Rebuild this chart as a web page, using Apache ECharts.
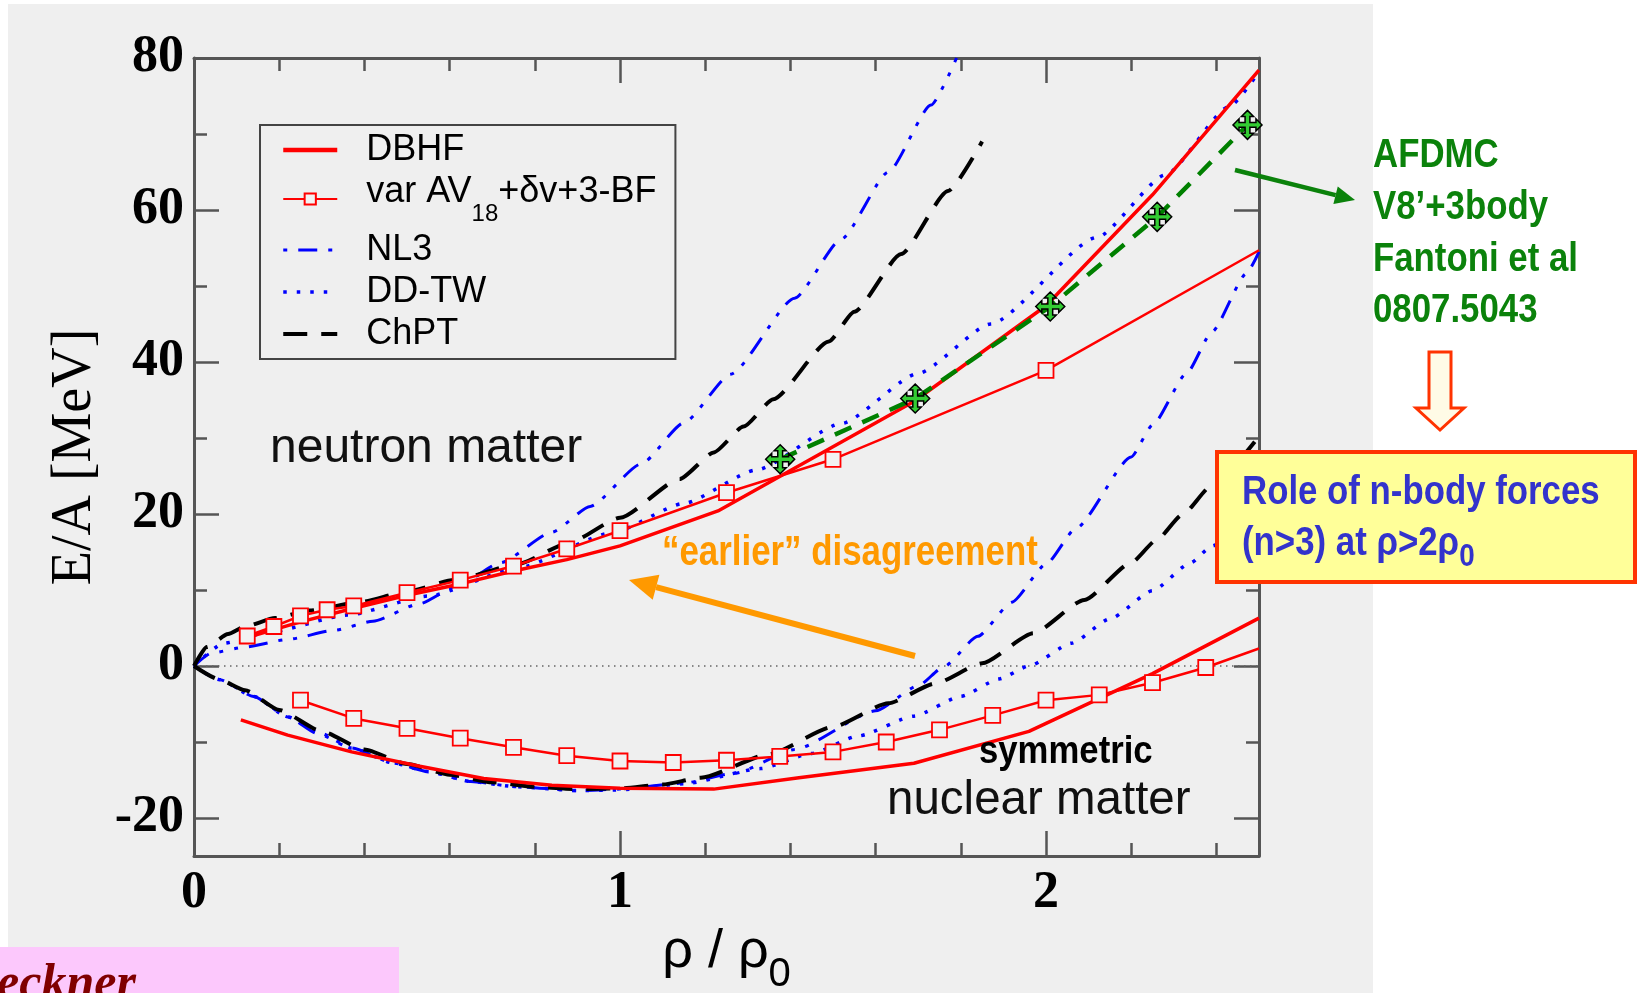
<!DOCTYPE html>
<html>
<head>
<meta charset="utf-8">
<title>E/A vs density</title>
<script src="https://cdn.jsdelivr.net/npm/echarts@6/dist/echarts.min.js"></script>
<style>
  html, body { margin: 0; padding: 0; background: #fff; }
  #eosChart { width: 1640px; height: 993px; }
</style>
</head>
<body>
<div id="eosChart"></div>
<script>
// rho/rho0 on x, E/A [MeV] on y
const dbhfNeutronX = [0.11, 0.25, 0.375, 0.5, 0.625, 0.75, 0.875, 1.0, 1.23, 1.69, 2.0, 2.25, 2.5]
const dbhfNeutronY = [3.5, 5.8, 7.6, 9.3, 10.8, 12.5, 14.0, 15.8, 20.4, 34.8, 47.4, 62.0, 78.4]
const dbhfSymX = [0.11, 0.22, 0.37, 0.53, 0.68, 0.84, 1.0, 1.22, 1.42, 1.69, 1.96, 2.25, 2.5]
const dbhfSymY = [-7.1, -9.1, -11.3, -13.2, -14.8, -15.7, -16.1, -16.2, -14.7, -12.8, -8.6, -1.0, 6.3]

const varNeutronX = [0.125, 0.1875, 0.25, 0.3125, 0.375, 0.5, 0.625, 0.75, 0.875, 1.0, 1.25, 1.5, 2.0, 2.5]
const varNeutronY = [3.95, 5.2, 6.6, 7.4, 7.9, 9.65, 11.3, 13.15, 15.4, 17.8, 22.8, 27.2, 38.9, 54.7]
const varSymX = [0.25, 0.375, 0.5, 0.625, 0.75, 0.875, 1.0, 1.125, 1.25, 1.375, 1.5, 1.625, 1.75, 1.875, 2.0, 2.125, 2.25, 2.375, 2.5]
const varSymY = [-4.5, -6.9, -8.2, -9.5, -10.7, -11.8, -12.5, -12.7, -12.4, -11.9, -11.3, -10.0, -8.4, -6.5, -4.5, -3.8, -2.2, -0.2, 2.3]

const nl3NeutronX = [0, 0.04, 0.12, 0.22, 0.33, 0.42, 0.53, 0.62, 0.72, 0.84, 0.93, 1.05, 1.15, 1.26, 1.41, 1.52, 1.63, 1.73, 1.79]
const nl3NeutronY = [0, 1.7, 2.5, 3.5, 4.7, 5.9, 8.2, 10.6, 13.6, 17.6, 21.0, 26.6, 32.0, 38.4, 48.4, 56.2, 65.0, 73.8, 80]
const nl3SymX = [0, 0.06, 0.14, 0.22, 0.29, 0.37, 0.47, 0.55, 0.65, 0.76, 0.9, 1.0, 1.15, 1.27, 1.41, 1.6, 1.7, 1.76, 1.84, 1.92, 2.0, 2.07, 2.2, 2.25, 2.33, 2.39, 2.47, 2.5]
const nl3SymY = [0, -1.8, -4.0, -6.7, -8.9, -10.8, -12.8, -13.9, -15.2, -15.9, -16.4, -16.2, -15.4, -14.1, -11.0, -5.9, -2.6, -0.1, 3.9, 8.4, 13.4, 18.1, 27.5, 31.7, 38.5, 44.0, 51.6, 54.5]

const ddtwNeutronX = [0, 0.07, 0.18, 0.36, 0.55, 0.76, 0.98, 1.15, 1.32, 1.52, 1.7, 1.87, 2.12, 2.28, 2.43, 2.5]
const ddtwNeutronY = [0, 3.0, 4.5, 6.7, 9.2, 12.9, 17.5, 21.4, 25.8, 31.9, 38.5, 45.0, 56.4, 64.6, 73.6, 78.2]
const ddtwSymX = [0, 0.06, 0.14, 0.22, 0.3, 0.37, 0.47, 0.55, 0.65, 0.76, 0.9, 1.0, 1.15, 1.33, 1.45, 1.56, 1.69, 1.8, 1.89, 1.96, 2.06, 2.15, 2.25, 2.34, 2.39, 2.5]
const ddtwSymY = [0, -1.8, -4.0, -6.7, -8.9, -10.8, -12.8, -13.9, -15.2, -15.9, -16.4, -16.3, -15.5, -13.5, -11.5, -9.2, -6.6, -4.0, -1.7, 0, 3.0, 6.2, 9.9, 13.6, 15.8, 21.0]

const chptNeutronX = [0, 0.03, 0.08, 0.12, 0.19, 0.27, 0.39, 0.5, 0.61, 0.76, 0.88, 1.0, 1.14, 1.22, 1.29, 1.36, 1.49, 1.55, 1.66, 1.77, 1.85]
const chptNeutronY = [0, 2.5, 4.2, 5.2, 6.3, 7.3, 8.4, 9.8, 11.3, 13.4, 16.2, 19.5, 24.6, 28.1, 31.5, 35.1, 42.7, 46.6, 54.2, 62.5, 69.0]
const chptSymX = [0, 0.06, 0.12, 0.2, 0.3, 0.4, 0.5, 0.6, 0.7, 0.8, 0.9, 1.0, 1.1, 1.19, 1.35, 1.5, 1.63, 1.74, 1.85, 1.97, 2.09, 2.2, 2.26, 2.32, 2.39, 2.49]
const chptSymY = [0, -1.8, -3.2, -5.8, -8.6, -11.0, -12.9, -14.3, -15.3, -15.9, -16.2, -16.1, -15.6, -14.7, -11.6, -8.0, -4.9, -2.3, 0.35, 4.3, 8.7, 13.6, 16.6, 19.9, 23.8, 29.5]

const afdmcX = [1.376, 1.693, 2.01, 2.261, 2.473]
const afdmcY = [27.2, 35.2, 47.3, 59.1, 71.2]

const zeroLineX = [0, 2.5]
const zeroLineY = [0, 0]

// axis ticks
const xMajor = [0, 1, 2]
const xMinor = [0.2, 0.4, 0.6, 0.8, 1.2, 1.4, 1.6, 1.8, 2.2, 2.4]
const yMajor = [-20, 0, 20, 40, 60, 80]
const yMinor = [-10, 10, 30, 50, 70]

const VAR_NAME = 'var AV18+δv+3-BF'
const RED = '#ff0000'
const BLUE = '#0000ff'
const AXIS = '#555555'
const NL3_DASH = [19, 11, 4, 11, 4, 11]

function pairs(xs, ys) {
    return xs.map((x, i) => [x, ys[i]])
}

// last point sits on the frame and has no marker
function varData(xs, ys) {
    return xs.map((x, i) => i === xs.length - 1 ? { value: [x, ys[i]], symbol: 'none' } : [x, ys[i]])
}

function tickAxis(pos, values, len, withLine) {
    const horiz = pos === 'top' || pos === 'bottom'
    return {
        type: 'value', position: pos, min: horiz ? 0 : -25, max: horiz ? 2.5 : 80,
        axisLine: { show: withLine, onZero: false, lineStyle: { color: AXIS, width: 3 } },
        axisTick: { show: true, inside: true, length: len, customValues: values, lineStyle: { color: AXIS, width: 2.5 } },
        axisLabel: { show: false },
        splitLine: { show: false }
    }
}

function arrow(x1, y1, x2, y2, color, width, headLen, headHalf) {
    const L = Math.hypot(x2 - x1, y2 - y1)
    const ux = (x2 - x1) / L, uy = (y2 - y1) / L
    const bx = x2 - ux * headLen, by = y2 - uy * headLen
    return [
        { type: 'line', z: 50, shape: { x1: x1, y1: y1, x2: bx, y2: by }, style: { stroke: color, lineWidth: width } },
        { type: 'polygon', z: 50, shape: { points: [[x2, y2], [bx - uy * headHalf, by + ux * headHalf], [bx + uy * headHalf, by - ux * headHalf]] }, style: { fill: color } }
    ]
}

function label(text, x, y, font, color, scaleX, extra) {
    return {
        type: 'text', z: 50, x: x, y: y, scaleX: scaleX || 1,
        style: Object.assign({ text: text, font: font, fill: color, align: 'left', verticalAlign: 'middle' }, extra || {})
    }
}

const NARROW = 'bold 40px "Liberation Sans"'
const GREEN = '#0b820b'

const crossPath = 'path://M12 0L17 5L14 5L14 10L19 10L19 7L24 12L19 17L19 14L14 14L14 19L17 19L12 24L7 19L10 19L10 14L5 14L5 17L0 12L5 7L5 10L10 10L10 5L7 5Z'

const theory = (name, data, color, width, dash) => ({
    name: name, type: 'line', data: data, symbol: 'none', smooth: 0.2, smoothMonotone: 'x',
    lineStyle: { color: color, width: width, type: dash }, itemStyle: { color: color }
})

// line-only legend entries: hide the default marker
const noMarker = (name, width, offset) => ({ name: name, itemStyle: { opacity: 0 }, lineStyle: { width: width, dashOffset: offset || 0 } })

const chart = echarts.init(document.querySelector('#eosChart'))
chart.setOption({
    animation: false,
    backgroundColor: '#ffffff',
    grid: { left: 194, right: 381, top: 58, bottom: 137, outerBoundsMode: 'none' },
    xAxis: [
        {
            type: 'value', position: 'bottom', min: 0, max: 2.5,
            axisLine: { show: true, onZero: false, lineStyle: { color: AXIS, width: 3 } },
            axisTick: { show: true, inside: true, length: 25, customValues: xMajor, lineStyle: { color: AXIS, width: 2.5 } },
            axisLabel: { customValues: xMajor, margin: 12, color: '#000', fontFamily: 'Liberation Serif', fontWeight: 'bold', fontSize: 52 },
            splitLine: { show: false },
            name: '{a|ρ / ρ}{s|0}', nameLocation: 'middle', nameGap: 68,
            nameTextStyle: {
                color: '#000', fontFamily: 'Liberation Sans', fontSize: 54,
                rich: {
                    a: { color: '#000', fontFamily: 'Liberation Sans', fontSize: 54, lineHeight: 54, verticalAlign: 'top' },
                    s: { color: '#000', fontFamily: 'Liberation Sans', fontSize: 40, lineHeight: 40, verticalAlign: 'top', padding: [30, 0, 0, 0] }
                }
            }
        },
        tickAxis('bottom', xMinor, 13, false),
        tickAxis('top', xMajor, 25, true),
        tickAxis('top', xMinor, 13, false)
    ],
    yAxis: [
        {
            type: 'value', position: 'left', min: -25, max: 80,
            axisLine: { show: true, onZero: false, lineStyle: { color: AXIS, width: 3 } },
            axisTick: { show: true, inside: true, length: 25, customValues: yMajor, lineStyle: { color: AXIS, width: 2.5 } },
            axisLabel: { customValues: yMajor, margin: 10, color: '#000', fontFamily: 'Liberation Serif', fontWeight: 'bold', fontSize: 52 },
            splitLine: { show: false },
            name: 'E/A [MeV]', nameLocation: 'middle', nameGap: 84,
            nameTextStyle: { color: '#000', fontFamily: 'Liberation Serif', fontSize: 56 }
        },
        tickAxis('left', yMinor, 13, false),
        tickAxis('right', yMajor, 25, true),
        tickAxis('right', yMinor, 13, false)
    ],
    legend: {
        data: [noMarker('DBHF', 4.5), VAR_NAME, noMarker('NL3', 3, 45), noMarker('DD-TW', 3.5), noMarker('ChPT', 4)],
        orient: 'vertical', left: 260, top: 125,
        padding: [7, 19, 7, 21], itemGap: 6, itemWidth: 54, itemHeight: 14,
        borderColor: '#444', borderWidth: 2, selectedMode: false,
        formatter: name => name === VAR_NAME
            ? '{g| }{m|var AV}{s|18}{m|+δv+3-BF}'
            : '{g| }{n|' + name + '}',
        textStyle: {
            color: '#000', fontFamily: 'Liberation Sans', fontSize: 36,
            rich: {
                g: { width: 24, lineHeight: 40, fontSize: 36 },
                n: { color: '#000', fontFamily: 'Liberation Sans', fontSize: 36, lineHeight: 40 },
                m: { color: '#000', fontFamily: 'Liberation Sans', fontSize: 36, lineHeight: 50, verticalAlign: 'top' },
                s: { color: '#000', fontFamily: 'Liberation Sans', fontSize: 24, lineHeight: 24, verticalAlign: 'top', padding: [28, 0, 0, 0] }
            }
        }
    },
    series: [
        {
            name: 'zero', type: 'line', data: pairs(zeroLineX, zeroLineY), symbol: 'none', silent: true,
            lineStyle: { color: '#666', width: 1.5, type: [1.5, 4.5] }
        },
        theory('NL3', pairs(nl3NeutronX, nl3NeutronY), BLUE, 3, NL3_DASH),
        theory('NL3', pairs(nl3SymX, nl3SymY), BLUE, 3, NL3_DASH),
        theory('DD-TW', pairs(ddtwNeutronX, ddtwNeutronY), BLUE, 3.5, [3.5, 10]),
        theory('DD-TW', pairs(ddtwSymX, ddtwSymY), BLUE, 3.5, [3.5, 10]),
        theory('ChPT', pairs(chptNeutronX, chptNeutronY), '#000', 4, [24, 14]),
        theory('ChPT', pairs(chptSymX, chptSymY), '#000', 4, [24, 14]),
        {
            name: VAR_NAME, type: 'line', data: varData(varNeutronX, varNeutronY),
            symbol: 'rect', symbolSize: 15, showAllSymbol: true,
            lineStyle: { color: RED, width: 2.5 },
            itemStyle: { color: '#f2f2f2', borderColor: RED, borderWidth: 1.8 }
        },
        {
            name: VAR_NAME, type: 'line', data: varData(varSymX, varSymY),
            symbol: 'rect', symbolSize: 15, showAllSymbol: true,
            lineStyle: { color: RED, width: 2.5 },
            itemStyle: { color: '#f2f2f2', borderColor: RED, borderWidth: 1.8 }
        },
        {
            name: 'DBHF', type: 'line', data: pairs(dbhfNeutronX, dbhfNeutronY), symbol: 'none',
            lineStyle: { color: RED, width: 3.5 }, itemStyle: { color: RED }
        },
        {
            name: 'DBHF', type: 'line', data: pairs(dbhfSymX, dbhfSymY), symbol: 'none',
            lineStyle: { color: RED, width: 3.5 }, itemStyle: { color: RED }
        },
        {
            name: 'AFDMC', type: 'line', data: pairs(afdmcX, afdmcY), z: 5,
            symbol: crossPath, symbolSize: 29,
            lineStyle: { color: '#008000', width: 4.5, type: [18, 12] },
            itemStyle: { color: '#33cc33', borderColor: '#000', borderWidth: 1.5 }
        }
    ],
    graphic: [
        { type: 'rect', z: -1, shape: { x: 8, y: 4, width: 1365, height: 989 }, style: { fill: '#efefef' } },
        label('neutron matter', 270, 449, '48px "Liberation Sans"', '#111'),
        label('symmetric', 979, 752, 'bold 39px "Liberation Sans"', '#000', 0.89),
        label('nuclear matter', 887, 801, '47.5px "Liberation Sans"', '#111'),
        label('“earlier” disagreement', 662, 553, 'bold 42px "Liberation Sans"', '#ff9900', 0.83),
        ...arrow(915, 656, 629, 580, '#ff9900', 6, 28, 13),
        label('AFDMC', 1373, 156, NARROW, GREEN, 0.87),
        label('V8’+3body', 1373, 208, NARROW, GREEN, 0.87),
        label('Fantoni et al', 1373, 260, NARROW, GREEN, 0.87),
        label('0807.5043', 1373, 311, NARROW, GREEN, 0.87),
        ...arrow(1235, 170, 1355, 200, GREEN, 4.5, 20, 9),
        {
            type: 'polygon', z: 50,
            shape: { points: [[1429, 352], [1451, 352], [1451, 408], [1464, 408], [1440, 430], [1416, 408], [1429, 408]] },
            style: { fill: '#fffbe6', stroke: '#ff3300', lineWidth: 3 }
        },
        { type: 'rect', z: 50, shape: { x: 1217, y: 452, width: 418, height: 130 }, style: { fill: '#ffff99', stroke: '#ff3300', lineWidth: 4 } },
        label('Role of n-body forces', 1242, 493, NARROW, '#3333cc', 0.87),
        label('{a|(n>3) at ρ>2ρ}{s|0}', 1242, 524, NARROW, '#3333cc', 0.87, {
            verticalAlign: 'top',
            rich: {
                a: { font: NARROW, fill: '#3333cc', lineHeight: 40, verticalAlign: 'top' },
                s: { font: 'bold 32px "Liberation Sans"', fill: '#3333cc', lineHeight: 32, verticalAlign: 'top', padding: [17, 0, 0, 0] }
            }
        }),
        { type: 'rect', z: 50, shape: { x: 0, y: 947, width: 399, height: 46 }, style: { fill: '#fcc8fc' } },
        label('eckner', -3, 985, 'italic bold 50px "Liberation Serif"', '#800000')
    ]
})
</script>
</body>
</html>
